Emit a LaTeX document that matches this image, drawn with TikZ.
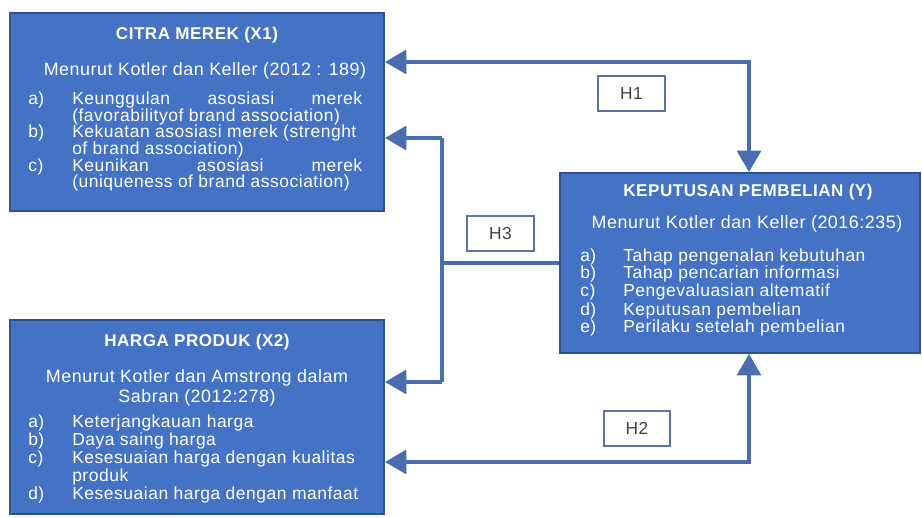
\documentclass[tikz,border=0pt]{standalone}
\usepackage{fontspec}
\setmainfont{Liberation Sans}[LetterSpace=3]
\usetikzlibrary{arrows.meta}
\definecolor{boxblue}{HTML}{4472C4}
\definecolor{boxedge}{HTML}{2F528F}
\definecolor{linec}{HTML}{4A6DB0}
\definecolor{labedge}{HTML}{5B73A0}
\definecolor{labtext}{HTML}{404040}
\begin{document}
\begin{tikzpicture}[x=0.75pt,y=-0.75pt,
  box/.style={draw=boxedge, line width=1.5pt, fill=boxblue, inner sep=0pt},
  ttl/.style={text=white, inner sep=0pt, font=\bfseries\fontsize{12.8}{14}\selectfont},
  mid/.style={text=white, inner sep=0pt, font=\fontsize{13.4}{15}\selectfont},
  txt/.style={text=white, inner sep=0pt, anchor=west, text height=9.5pt, text depth=2.7pt, font=\fontsize{13.1}{15}\selectfont},
  conn/.style={draw=linec, line width=2.4pt},
  tri/.tip={Triangle[length=16pt,width=18pt]},
  lab/.style={draw=labedge, line width=1.7pt, fill=white, text=labtext, minimum width=50pt, minimum height=26pt, inner sep=0pt, font=\fontsize{13}{15}\selectfont}
]
\useasboundingbox (0,0) rectangle (922,518);
% boxes
\node[box, minimum width=280.5pt, minimum height=148.5pt] (x1) at (197,112) {};
\node[box, minimum width=280.5pt, minimum height=145.5pt] (x2) at (197,417) {};
\node[box, minimum width=270pt, minimum height=135pt] (y) at (740,263) {};
% X1 text
\node[ttl] (x1t) at (197,35) {CITRA MEREK (X1)};
\node[mid] (x1m) at (205,71) {Menurut Kotler dan Keller (2012 : 189)};
\node[txt] (x1a) at (28,100) {a)};
\node[txt] (x1al) at (72,100) {\makebox[217.5pt][s]{Keunggulan asosiasi merek}};
\node[txt] (x1al2) at (72,117) {(favorabilityof brand association)};
\node[txt] (x1b) at (28,133) {b)};
\node[txt] (x1bl) at (72,133) {Kekuatan asosiasi merek (strenght};
\node[txt] (x1bl2) at (72,150) {of brand association)};
\node[txt] (x1c) at (28,167) {c)};
\node[txt] (x1cl) at (72,167) {\makebox[217.5pt][s]{Keunikan asosiasi merek}};
\node[txt] (x1cl2) at (72,183) {(uniqueness of brand association)};
% X2 text
\node[ttl] (x2t) at (197,342) {HARGA PRODUK (X2)};
\node[mid] (x2m) at (197,378) {Menurut Kotler dan Amstrong dalam};
\node[mid] (x2m2) at (197,398) {Sabran (2012:278)};
\node[txt] (x2a) at (28,423) {a)};
\node[txt] (x2al) at (72,423) {Keterjangkauan harga};
\node[txt] (x2b) at (28,441) {b)};
\node[txt] (x2bl) at (72,441) {Daya saing harga};
\node[txt] (x2c) at (28,459) {c)};
\node[txt] (x2cl) at (72,459) {Kesesuaian harga dengan kualitas};
\node[txt] (x2cl2) at (72,477) {produk};
\node[txt] (x2d) at (28,495) {d)};
\node[txt] (x2dl) at (72,495) {Kesesuaian harga dengan manfaat};
% Y text
\node[ttl] (yt) at (748,192) {KEPUTUSAN PEMBELIAN (Y)};
\node[mid] (ym) at (747,224) {Menurut Kotler dan Keller (2016:235)};
\node[txt] (ya) at (580,257) {a)};
\node[txt] (yal) at (623,257) {Tahap pengenalan kebutuhan};
\node[txt] (yb) at (580,274) {b)};
\node[txt] (ybl) at (623,274) {Tahap pencarian informasi};
\node[txt] (yc) at (580,292) {c)};
\node[txt] (ycl) at (623,292) {Pengevaluasian altematif};
\node[txt] (yd) at (580,311) {d)};
\node[txt] (ydl) at (623,311) {Keputusan pembelian};
\node[txt] (ye) at (580,328) {e)};
\node[txt] (yel) at (623,328) {Perilaku setelah pembelian};
% connectors
\coordinate (c1) at (749,62);
\coordinate (c2) at (749,462);
\coordinate (b1) at (442,138);
\coordinate (b2) at (442,382);
\coordinate (b3) at (442,263);
\draw[conn, tri-tri] (x1.east |- c1) -- (c1) -- (y.north -| c1);
\draw[conn, tri-tri] (x2.east |- c2) -- (c2) -- (y.south -| c2);
\draw[conn, -tri] (b1) -- (x1.east |- b1);
\draw[conn, -tri] (b2) -- (x2.east |- b2);
\draw[conn] (b1) -- (b2);
\draw[conn] (b3) -- (y.west |- b3);
% labels
\node[lab] (h1) at (631.5,93.5) {H1};
\node[lab] (h3) at (500.5,233.5) {H3};
\node[lab] (h2) at (637,428.5) {H2};
\end{tikzpicture}
\end{document}
